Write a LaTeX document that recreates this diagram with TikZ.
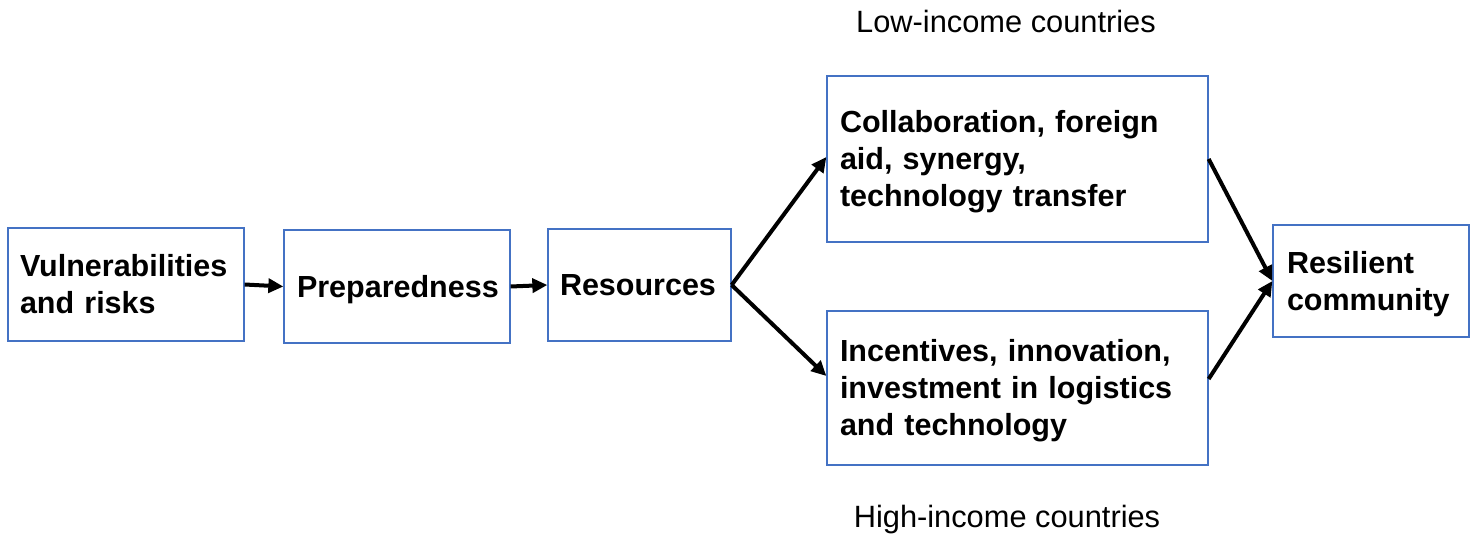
\documentclass[tikz,border=0pt]{standalone}
\usepackage{fontspec}
\setmainfont{Liberation Sans}
\usetikzlibrary{arrows.meta}
\definecolor{boxblue}{RGB}{68,114,196}
% line box with the font's full ascent and descent, so that blocks of text
% are centred on their lines rather than on their visible ink
\newcommand\linestrut{\rule[-6.5pt]{0pt}{34.1pt}}
\begin{document}
\begin{tikzpicture}[x=1pt,y=-1pt,
  stage/.style={draw=boxblue, line width=1.3pt, align=left, inner ysep=0pt,
    font=\fontsize{30.5}{37}\selectfont\bfseries,
    execute at begin node=\linestrut, execute at end node=\linestrut},
  flow/.style={line width=4pt, -{Triangle[length=15pt,width=14pt]}},
  caption/.style={font=\fontsize{30.8}{37}\selectfont, inner sep=0pt, anchor=base}]
\useasboundingbox (0,0) rectangle (1477,537);

% process stages
\node[stage, inner xsep=12pt, text width=212pt, minimum height=113pt] (vul) at (126,284.5)
  {Vulnerabilities\\and risks};
\node[stage, inner xsep=13pt, text width=200pt, minimum height=113pt] (prep) at (397,286.5)
  {Preparedness};
\node[stage, inner xsep=12pt, text width=159pt, minimum height=112pt] (res) at (639.5,285)
  {Resources};
\node[stage, inner xsep=13pt, text width=355pt, minimum height=166pt] (low) at (1017.5,159)
  {Collaboration, foreign\\aid, synergy,\\technology transfer};
\node[stage, inner xsep=13pt, text width=355pt, minimum height=154pt] (high) at (1017.5,388)
  {Incentives, innovation,\\investment in logistics\\and technology};
\node[stage, inner xsep=14pt, text width=168pt, minimum height=112pt] (comm) at (1371,281)
  {Resilient\\community};

% group captions
\node[caption] (lowcap) at (1006,33) {Low-income countries};
\node[caption] (highcap) at (1007,527) {High-income countries};

% connectors
\draw[flow] (vul.east) -- (prep.west);
\draw[flow] (prep.east) -- (res.west);
\draw[flow] (res.east) -- ([yshift=2pt]low.west);
\draw[flow] (res.east) -- ([yshift=12pt]high.west);
\draw[flow] (low.east) -- (comm.west);
\draw[flow] ([yshift=9pt]high.east) -- (comm.west);
\end{tikzpicture}
\end{document}
